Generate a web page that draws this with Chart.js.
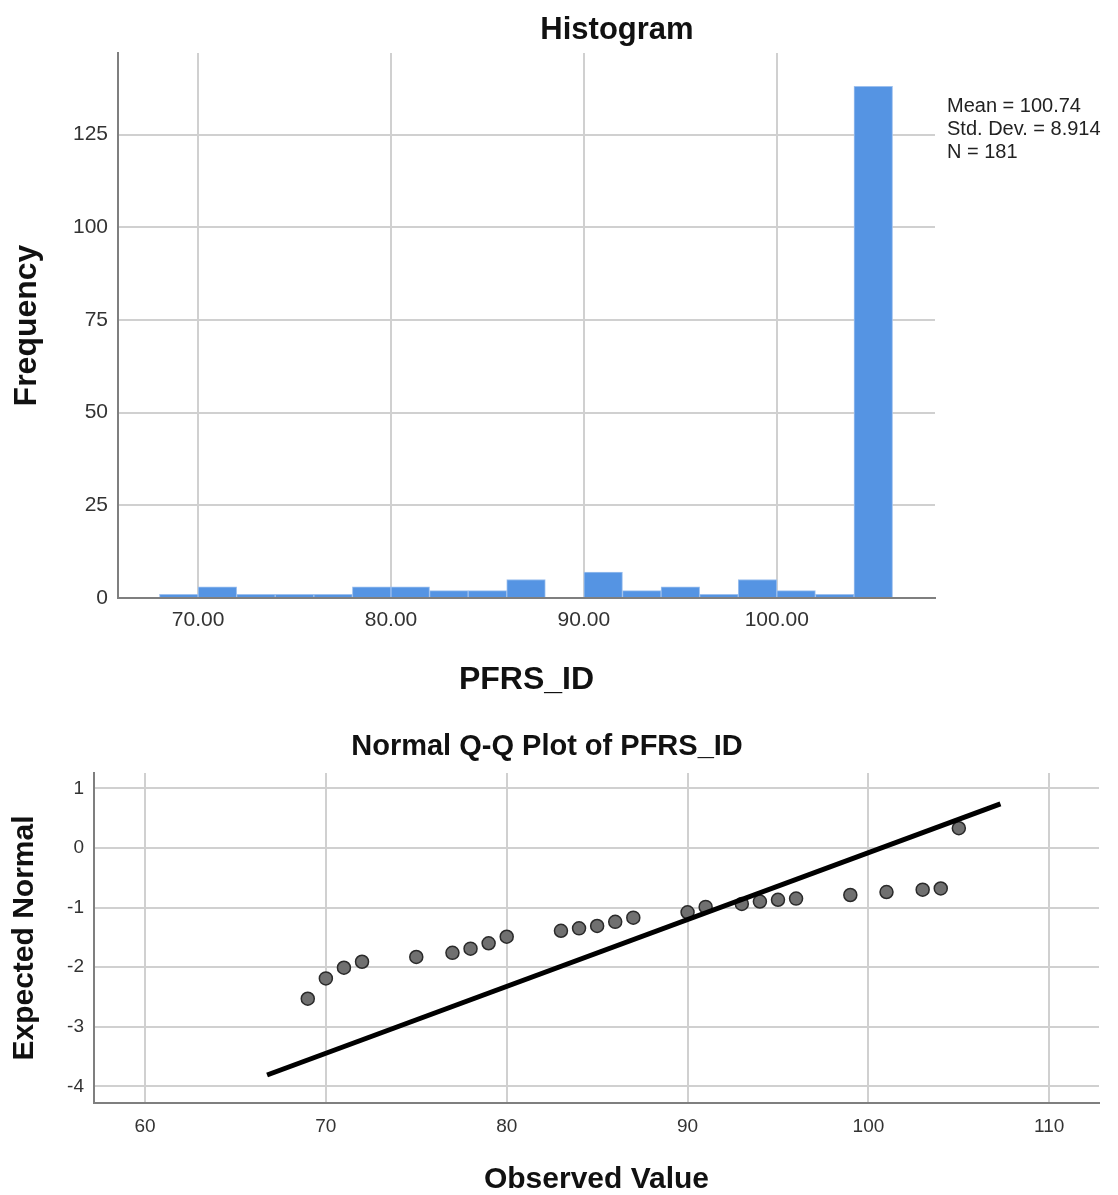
<!DOCTYPE html>
<html>
<head>
<meta charset="utf-8">
<title>PFRS_ID Histogram and Normal Q-Q Plot</title>
<script src="https://cdn.jsdelivr.net/npm/chart.js@4.4.1/dist/chart.umd.min.js"></script>
<style>
    body { margin: 0; background: #ffffff; }
    #wrap { position: relative; width: 1118px; height: 1195px; }
    #histChart { position: absolute; left: 0; top: 0; }
    #qqChart { position: absolute; left: 0; top: 700px; }
</style>
</head>
<body>
<div id="wrap">
    <canvas id="histChart" width="1118" height="700"></canvas>
    <canvas id="qqChart" width="1118" height="495"></canvas>
</div>
<script>
// Histogram bins (bin centres, width 2) and counts
const binCenters = [69, 71, 73, 75, 77, 79, 81, 83, 85, 87, 89, 91, 93, 95, 97, 99, 101, 103, 105];
const binCounts  = [1, 3, 1, 1, 1, 3, 3, 2, 2, 5, 0, 7, 2, 3, 1, 5, 2, 1, 138];
const statsLines = ['Mean = 100.74', 'Std. Dev. = 8.914', 'N = 181'];

// Normal Q-Q plot points
const observedValues = [69, 70, 71, 72, 75, 77, 78, 79, 80, 83, 84, 85, 86, 87, 90, 91, 93, 94, 95, 96, 99, 101, 103, 104, 105];
const expectedNormal = [-2.53, -2.19, -2.01, -1.91, -1.83, -1.76, -1.69, -1.60, -1.49, -1.39, -1.35, -1.31, -1.24, -1.17,
                        -1.08, -0.99, -0.94, -0.90, -0.87, -0.85, -0.79, -0.74, -0.70, -0.68, 0.33];
// Reference line end points
const refLineX = [66.75, 107.3];
const refLineY = [-3.81, 0.74];

const FONT = 'Arial, "Liberation Sans", sans-serif';
Chart.defaults.font.family = FONT;
Chart.defaults.color = '#333333';

const GRID = '#d0d0d0';
const AXIS = '#7f7f7f';

// draws free text (titles / stats) at fixed spots
function textPlugin(id, items) {
    return {
        id: id,
        afterDraw(chart) {
            const ctx = chart.ctx;
            ctx.save();
            items.forEach(t => {
                ctx.font = t.font;
                ctx.fillStyle = t.color || '#000';
                ctx.textAlign = t.align || 'center';
                ctx.textBaseline = 'middle';
                ctx.fillText(t.text, t.x, t.y);
            });
            ctx.restore();
        }
    };
}

// Histogram
new Chart(document.getElementById('histChart'), {
    type: 'bar',
    data: {
        datasets: [{
            data: binCenters.map((c, i) => ({ x: c, y: binCounts[i] })),
            backgroundColor: '#5594e3',
            borderColor: '#9dc0ee',
            borderWidth: 1,
            borderSkipped: 'bottom',
            barPercentage: 1,
            categoryPercentage: 1
        }]
    },
    options: {
        responsive: false,
        animation: false,
        layout: { padding: { top: 53, right: 183, left: 0, bottom: 0 } },
        plugins: { legend: { display: false }, tooltip: { enabled: false } },
        scales: {
            x: {
                type: 'linear',
                offset: false,
                min: 65.85,
                max: 108.2,
                afterFit(scale) { scale.height = 102; },
                ticks: {
                    stepSize: 10,
                    includeBounds: false,
                    padding: 10,
                    color: '#333',
                    font: { size: 21 },
                    callback: v => v.toFixed(2)
                },
                grid: { color: GRID, lineWidth: 2, drawTicks: false, offset: false },
                border: { display: true, color: AXIS, width: 2 },
                title: {
                    display: true,
                    text: 'PFRS_ID',
                    color: '#111',
                    font: { size: 32, weight: 'bold', lineHeight: 1 },
                    padding: { top: 0, bottom: 4 }
                }
            },
            y: {
                min: 0,
                max: 147,
                afterFit(scale) { scale.width = 118; },
                ticks: {
                    stepSize: 25,
                    includeBounds: false,
                    padding: 10,
                    color: '#333',
                    font: { size: 21 }
                },
                grid: { color: GRID, lineWidth: 2, drawTicks: false },
                border: { display: true, color: AXIS, width: 2 },
                title: {
                    display: true,
                    text: 'Frequency',
                    color: '#111',
                    font: { size: 32, weight: 'bold', lineHeight: 1 },
                    padding: { top: 11, bottom: 0 }
                }
            }
        }
    },
    plugins: [textPlugin('histText', [
        { text: 'Histogram', x: 617, y: 30, font: 'bold 31px ' + FONT, color: '#111' },
        { text: statsLines[0], x: 947, y: 106, font: '20px ' + FONT, color: '#222', align: 'left' },
        { text: statsLines[1], x: 947, y: 129, font: '20px ' + FONT, color: '#222', align: 'left' },
        { text: statsLines[2], x: 947, y: 152, font: '20px ' + FONT, color: '#222', align: 'left' }
    ])]
});

// Normal Q-Q plot
new Chart(document.getElementById('qqChart'), {
    type: 'scatter',
    data: {
        datasets: [{
            label: 'Reference',
            data: refLineX.map((x, i) => ({ x: x, y: refLineY[i] })),
            showLine: true,
            borderColor: '#000000',
            borderWidth: 5,
            pointRadius: 0,
            order: 0
        }, {
            label: 'Observed',
            data: observedValues.map((x, i) => ({ x: x, y: expectedNormal[i] })),
            pointRadius: 6.5,
            pointBackgroundColor: '#707070',
            pointBorderColor: '#2a2a2a',
            pointBorderWidth: 1.5,
            order: 1
        }]
    },
    options: {
        responsive: false,
        animation: false,
        layout: { padding: { top: 73, right: 19, left: 0, bottom: 0 } },
        plugins: { legend: { display: false }, tooltip: { enabled: false } },
        scales: {
            x: {
                type: 'linear',
                min: 57.18,
                max: 112.75,
                afterFit(scale) { scale.height = 92; },
                ticks: {
                    stepSize: 10,
                    includeBounds: false,
                    padding: 12,
                    color: '#333',
                    font: { size: 19 }
                },
                grid: { color: GRID, lineWidth: 2, drawTicks: false },
                border: { display: true, color: AXIS, width: 2 },
                title: {
                    display: true,
                    text: 'Observed Value',
                    color: '#111',
                    font: { size: 30, weight: 'bold', lineHeight: 1 },
                    padding: { top: 0, bottom: 0 }
                }
            },
            y: {
                min: -4.28,
                max: 1.257,
                afterFit(scale) { scale.width = 94; },
                ticks: {
                    stepSize: 1,
                    includeBounds: false,
                    padding: 10,
                    color: '#333',
                    font: { size: 19 }
                },
                grid: { color: GRID, lineWidth: 2, drawTicks: false },
                border: { display: true, color: AXIS, width: 2 },
                title: {
                    display: true,
                    text: 'Expected Normal',
                    color: '#111',
                    font: { size: 30, weight: 'bold', lineHeight: 1 },
                    padding: { top: 10, bottom: 0 }
                }
            }
        }
    },
    plugins: [textPlugin('qqText', [
        { text: 'Normal Q-Q Plot of PFRS_ID', x: 547, y: 47, font: 'bold 29px ' + FONT, color: '#111' }
    ])]
});
</script>
</body>
</html>
